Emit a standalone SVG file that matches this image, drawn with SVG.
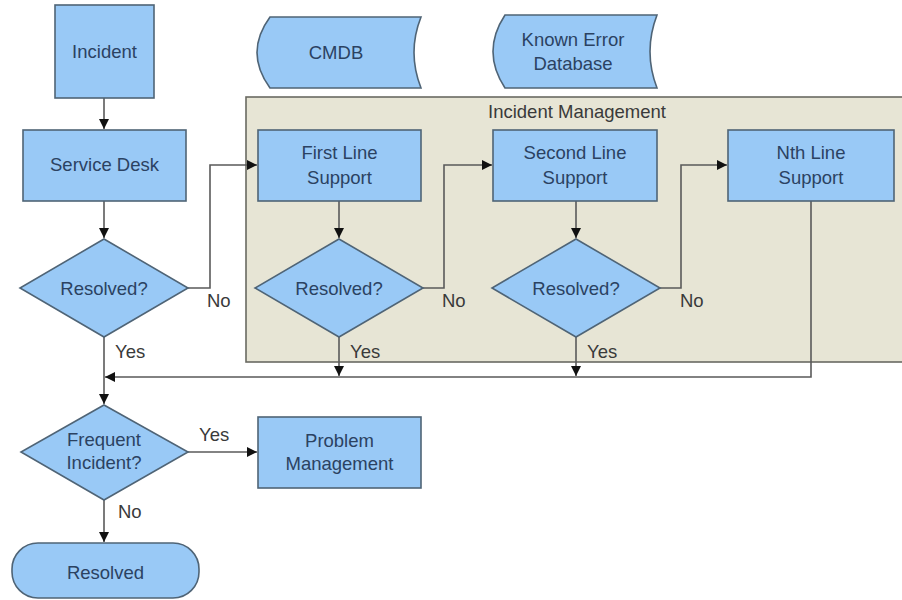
<svg xmlns="http://www.w3.org/2000/svg" width="902" height="600" viewBox="0 0 902 600">
<style>
.n{fill:#99c9f6;stroke:#4f6476;stroke-width:1.6}
.t{font-family:"Liberation Sans",Arial,sans-serif;font-size:18.5px;fill:#2b4262;text-anchor:middle}
.l{font-family:"Liberation Sans",Arial,sans-serif;font-size:18.5px;fill:#3a3a3a}
.c{fill:none;stroke:#5a5a5a;stroke-width:1.6}
</style>
<defs>
<marker id="a" viewBox="0 0 10 10" refX="10" refY="5" markerWidth="10" markerHeight="10" markerUnits="userSpaceOnUse" orient="auto">
<path d="M0,0 L10,5 L0,10 Z" fill="#111"/>
</marker>
</defs>
<rect width="902" height="600" fill="#fff"/>
<g id="incident-management">
<rect x="246" y="97" width="670" height="265" fill="#e7e5d5" stroke="#6a6a62" stroke-width="1.6"/>
<text class="l" x="577" y="118" text-anchor="middle">Incident Management</text>
</g>
<g id="connectors">
<path class="c" d="M104,98 V129" marker-end="url(#a)"/>
<path class="c" d="M104,201 V238" marker-end="url(#a)"/>
<path class="c" d="M188,288 H210 V165 H257" marker-end="url(#a)"/>
<path class="c" d="M339,201 V238" marker-end="url(#a)"/>
<path class="c" d="M423,288 H444 V165 H492" marker-end="url(#a)"/>
<path class="c" d="M576,201 V238" marker-end="url(#a)"/>
<path class="c" d="M660,288 H681 V165 H727" marker-end="url(#a)"/>
<path class="c" d="M811,201 V377 H105" marker-end="url(#a)"/>
<path class="c" d="M339,337 V376" marker-end="url(#a)"/>
<path class="c" d="M576,337 V376" marker-end="url(#a)"/>
<path class="c" d="M104,337 V404" marker-end="url(#a)"/>
<path class="c" d="M188,452 H257" marker-end="url(#a)"/>
<path class="c" d="M104,500 V542" marker-end="url(#a)"/>
<text class="l" x="207" y="307">No</text>
<text class="l" x="442" y="307">No</text>
<text class="l" x="680" y="307">No</text>
<text class="l" x="115" y="358">Yes</text>
<text class="l" x="350" y="358">Yes</text>
<text class="l" x="587" y="358">Yes</text>
<text class="l" x="199" y="441">Yes</text>
<text class="l" x="118" y="518">No</text>
</g>
<g id="incident">
<rect class="n" x="55" y="5" width="99" height="93"/>
<text class="t" x="104.5" y="58">Incident</text>
</g>
<g id="cmdb">
<path class="n" d="M270,17 H421 Q407,52.5 421,88 H270 Q244,52.5 270,17 Z"/>
<text class="t" x="336" y="59">CMDB</text>
</g>
<g id="known-error-database">
<path class="n" d="M505,15 H657 Q643,51.5 657,88 H505 Q481,51.5 505,15 Z"/>
<text class="t" x="573" y="46">Known Error</text>
<text class="t" x="573" y="70">Database</text>
</g>
<g id="service-desk">
<rect class="n" x="23" y="130" width="163" height="71"/>
<text class="t" x="104.5" y="171">Service Desk</text>
</g>
<g id="first-line-support">
<rect class="n" x="258" y="130" width="163" height="71"/>
<text class="t" x="339.5" y="159">First Line</text>
<text class="t" x="339.5" y="184">Support</text>
</g>
<g id="second-line-support">
<rect class="n" x="493" y="130" width="164" height="71"/>
<text class="t" x="575" y="159">Second Line</text>
<text class="t" x="575" y="184">Support</text>
</g>
<g id="nth-line-support">
<rect class="n" x="728" y="130" width="166" height="71"/>
<text class="t" x="811" y="159">Nth Line</text>
<text class="t" x="811" y="184">Support</text>
</g>
<g id="resolved-1">
<path class="n" d="M104,239 L188,288 L104,337 L20,288 Z"/>
<text class="t" x="104" y="295">Resolved?</text>
</g>
<g id="resolved-2">
<path class="n" d="M339,239 L423,288 L339,337 L255,288 Z"/>
<text class="t" x="339" y="295">Resolved?</text>
</g>
<g id="resolved-3">
<path class="n" d="M576,239 L660,288 L576,337 L492,288 Z"/>
<text class="t" x="576" y="295">Resolved?</text>
</g>
<g id="frequent-incident">
<path class="n" d="M104,405 L188,452 L104,500 L21,452 Z"/>
<text class="t" x="104" y="446">Frequent</text>
<text class="t" x="104" y="469">Incident?</text>
</g>
<g id="problem-management">
<rect class="n" x="258" y="417" width="163" height="71"/>
<text class="t" x="339.5" y="447">Problem</text>
<text class="t" x="339.5" y="470">Management</text>
</g>
<g id="resolved">
<rect class="n" x="12" y="543" width="187" height="55" rx="26" ry="26"/>
<text class="t" x="105.5" y="579">Resolved</text>
</g>
</svg>
